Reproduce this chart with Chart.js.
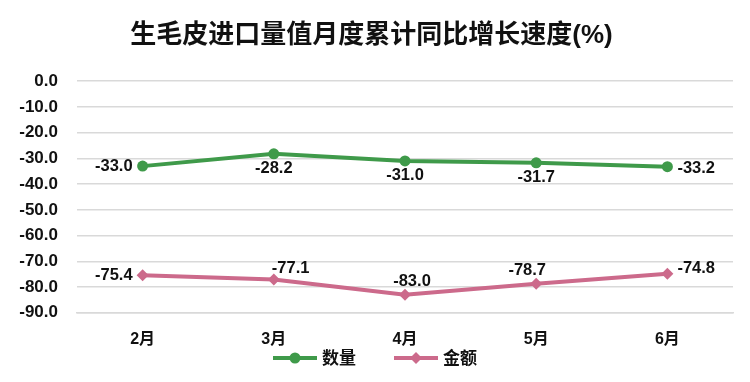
<!DOCTYPE html>
<html><head><meta charset="utf-8">
<script src="https://cdn.jsdelivr.net/npm/chart.js@4"></script>
<style>html,body{margin:0;padding:0;background:#fff}#w{width:750px;height:382px}</style>
</head><body><div id="w"><canvas id="c"></canvas></div>
<script>
const categories = ['2月','3月','4月','5月','6月'];
const quantity = [-33.0, -28.2, -31.0, -31.7, -33.2];
const amount = [-75.4, -77.1, -83.0, -78.7, -74.8];
const seriesNames = ['数量','金额'];
const titleText = '生毛皮进口量值月度累计同比增长速度(%)';

const FONT = '"Liberation Sans", "Noto Sans CJK SC", sans-serif';
const GREEN = '#3f9a4a', PINK = '#cc6a8b';

// label placement per point: [dx, dy, align]
const qPos = [[-10,0,'right'],[0,15,'center'],[0,14,'center'],[0,15,'center'],[10,2,'left']];
const aPos = [[-10,0,'right'],[-2,-11,'left'],[7,-13,'center'],[-9,-13,'center'],[10,-5,'left']];

const labelPlugin = {
  id:'vlabels',
  afterDatasetsDraw(chart){
    const ctx = chart.ctx;
    ctx.save();
    ctx.font = 'bold 16.5px ' + FONT;
    ctx.fillStyle = '#111';
    ctx.textBaseline = 'middle';
    chart.data.datasets.forEach((ds,i)=>{
      const meta = chart.getDatasetMeta(i);
      const pos = i===0 ? qPos : aPos;
      meta.data.forEach((pt,j)=>{
        const p = pos[j];
        ctx.textAlign = p[2];
        ctx.fillText(ds.data[j].toFixed(1), pt.x + p[0], pt.y + p[1]);
      });
    });
    ctx.restore();
  }
};

const legendPlugin = {
  id:'customLegend',
  afterDraw(chart){
    const ctx = chart.ctx;
    ctx.save();
    ctx.font = 'bold 17px ' + FONT;
    ctx.textBaseline = 'middle';
    ctx.textAlign = 'left';
    const y = 358;
    const iconW = 44, gapText = 5, gapItem = 38;
    const items = chart.data.datasets.map(ds=>({ds, tw: ctx.measureText(ds.label).width}));
    let total = items.reduce((s,it)=>s+iconW+gapText+it.tw,0) + gapItem*(items.length-1);
    let x = (chart.width - total)/2;
    items.forEach((it,i)=>{
      const c = it.ds.borderColor;
      ctx.strokeStyle = c; ctx.lineWidth = 4; ctx.lineCap='butt';
      ctx.beginPath(); ctx.moveTo(x,y); ctx.lineTo(x+iconW,y); ctx.stroke();
      ctx.fillStyle = c;
      const cx = x+iconW/2;
      if(i===0){ ctx.beginPath(); ctx.arc(cx,y,5.5,0,Math.PI*2); ctx.fill(); }
      else { ctx.beginPath(); ctx.moveTo(cx,y-6); ctx.lineTo(cx+6,y); ctx.lineTo(cx,y+6); ctx.lineTo(cx-6,y); ctx.closePath(); ctx.fill(); }
      ctx.fillStyle = '#111';
      ctx.fillText(it.ds.label, x+iconW+gapText, y+1);
      x += iconW+gapText+it.tw+gapItem;
    });
    ctx.restore();
  }
};

new Chart(document.getElementById('c'), {
  type:'line',
  data:{
    labels: categories,
    datasets:[
      {label: seriesNames[0], data: quantity, borderColor: GREEN, backgroundColor: GREEN,
       borderWidth: 4, pointStyle:'circle', pointRadius:5.5, pointHoverRadius:5.5, pointBorderWidth:0, tension:0},
      {label: seriesNames[1], data: amount, borderColor: PINK, backgroundColor: PINK,
       borderWidth: 4, pointStyle:'rectRot', pointRadius:6, pointHoverRadius:6, pointBorderWidth:0, tension:0}
    ]
  },
  options:{
    responsive:true, maintainAspectRatio:false, animation:false,
    layout:{padding:{left:10,right:17,top:8,bottom:24}},
    plugins:{
      title:{display:true, text: titleText, color:'#111',
        font:{family:FONT, size:26, weight:'bold'}, padding:{top:12,bottom:30}},
      legend:{display:false},
      tooltip:{enabled:false}
    },
    scales:{
      x:{offset:true, grid:{display:false}, border:{display:true, color:'#d9d9d9', width:1.5},
        ticks:{color:'#111', font:{family:FONT, size:16, weight:'bold'}, padding:9}},
      y:{min:-90, max:0, grid:{color:'#d9d9d9', lineWidth:1.5, drawTicks:false}, border:{display:false},
        ticks:{stepSize:10, color:'#111', padding:19, font:{family:FONT, size:17, weight:'bold'},
          callback:v=>v.toFixed(1)},
        afterFit(s){ s.width = 67; }}
    }
  },
  plugins:[labelPlugin, legendPlugin]
});
</script></body></html>
